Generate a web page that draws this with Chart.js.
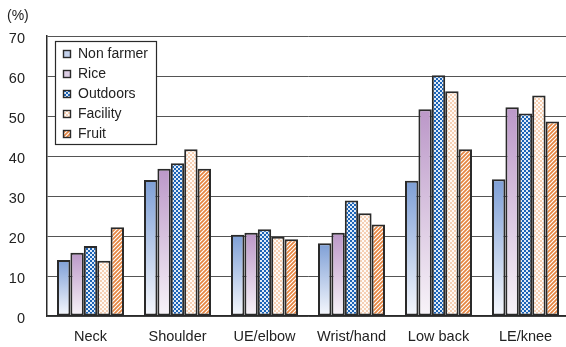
<!DOCTYPE html>
<html>
<head>
<meta charset="utf-8">
<script src="https://cdn.jsdelivr.net/npm/chart.js@4.4.1/dist/chart.umd.min.js"></script>
<style>
  html, body { margin: 0; padding: 0; background: #fff; overflow: hidden; width: 566px; height: 347px; }
  #wrap { position: relative; width: 572px; height: 347px; }
</style>
</head>
<body>
<div id="wrap"><canvas id="chart"></canvas></div>
<script>
// Prevalence of musculoskeletal symptoms by body region and farming type (%)
const categories = ['Neck', 'Shoulder', 'UE/elbow', 'Wrist/hand', 'Low back', 'LE/knee'];
const seriesNames = ['Non farmer', 'Rice', 'Outdoors', 'Facility', 'Fruit'];
const nonFarmer = [14.0, 34.0, 20.3, 18.2, 33.8, 34.2];
const rice      = [15.8, 36.8, 20.8, 20.8, 51.7, 52.2];
const outdoors  = [17.5, 38.2, 21.7, 28.9, 60.2, 50.6];
const facility  = [13.8, 41.7, 19.8, 25.7, 56.2, 55.1];
const fruit     = [22.2, 36.8, 19.2, 22.9, 41.7, 48.6];
const yTicks = [0, 10, 20, 30, 40, 50, 60, 70];

const FONT = '"Liberation Sans", Arial, Helvetica, sans-serif';
const EDGE = '#2a2a2a';

function tile(size, draw) {
  const c = document.createElement('canvas');
  c.width = size; c.height = size;
  draw(c.getContext('2d'));
  return document.createElement('canvas').getContext('2d').createPattern(c, 'repeat');
}

// checkered fills
const blueChecker = tile(4, g => {
  g.fillStyle = '#1b63b6'; g.fillRect(0, 0, 4, 4);
  g.fillStyle = '#dfeaf7'; g.fillRect(0, 0, 2, 2); g.fillRect(2, 2, 2, 2);
});
const peachChecker = tile(4, g => {
  g.fillStyle = '#fffaf6'; g.fillRect(0, 0, 4, 4);
  g.fillStyle = '#f5cfb3'; g.fillRect(0, 0, 2, 2); g.fillRect(2, 2, 2, 2);
});
// diagonal hatching
const orangeHatch = tile(4, g => {
  g.fillStyle = '#ffffff'; g.fillRect(0, 0, 4, 4);
  g.strokeStyle = '#e5843f'; g.lineWidth = 1.7;
  g.beginPath();
  g.moveTo(-1, 5); g.lineTo(5, -1);
  g.moveTo(-1, 1); g.lineTo(1, -1);
  g.moveTo(3, 5); g.lineTo(5, 3);
  g.stroke();
});

// vertical fade from a colour at the bar top to near-white at the baseline
function fade(top, bottom, swatch) {
  return function (ctx) {
    if (ctx.type !== 'data') return swatch;
    const chart = ctx.chart;
    if (!chart.chartArea || !chart.scales.y) return swatch;
    const y = chart.scales.y;
    const y0 = y.getPixelForValue(ctx.parsed.y);
    const y1 = y.getPixelForValue(0);
    const grad = chart.ctx.createLinearGradient(0, y0, 0, y1);
    grad.addColorStop(0, top);
    grad.addColorStop(1, bottom);
    return grad;
  };
}

const fills = [
  fade('#7e9fd6', '#f6f8fd', '#c3d1ec'),
  fade('#bb97c8', '#f8f4f9', '#dccde4'),
  blueChecker,
  peachChecker,
  orangeHatch
];
const swatches = ['#c3d1ec', '#dccde4', blueChecker, peachChecker, orangeHatch];
const values = [nonFarmer, rice, outdoors, facility, fruit];

const datasets = seriesNames.map((name, i) => ({
  label: name,
  data: values[i],
  backgroundColor: fills[i],
  borderColor: EDGE,
  borderWidth: 2,
  borderSkipped: false,
  barPercentage: 1.0,
  categoryPercentage: 0.77
}));

// "(%)" unit caption and the boxed legend inside the plot area
const decorations = {
  id: 'decorations',
  afterDraw(chart) {
    const g = chart.ctx;
    g.save();
    g.fillStyle = '#222';
    g.font = '14px ' + FONT;
    g.textBaseline = 'middle';
    g.textAlign = 'left';
    g.fillText('(%)', 7, 16);

    const bx = 55.5, by = 41.5, bw = 101, bh = 103;
    g.fillStyle = '#fff';
    g.fillRect(bx, by, bw, bh);
    g.strokeStyle = EDGE; g.lineWidth = 1.2;
    g.strokeRect(bx, by, bw, bh);

    chart.data.datasets.forEach((ds, i) => {
      const cy = 54 + i * 20;
      g.fillStyle = swatches[i];
      g.fillRect(63, cy - 4, 8, 8);
      g.strokeStyle = EDGE; g.lineWidth = 1.4;
      g.strokeRect(63.5, cy - 3.5, 7, 7);
      g.fillStyle = '#222';
      g.font = '14px ' + FONT;
      g.fillText(ds.label, 78, cy + 0.5);
    });
    g.restore();
  }
};

new Chart(document.getElementById('chart'), {
  type: 'bar',
  data: { labels: categories, datasets },
  options: {
    responsive: true,
    maintainAspectRatio: false,
    animation: false,
    layout: { padding: { top: 36, right: 3, left: 0, bottom: 0 } },
    plugins: { legend: { display: false }, tooltip: { enabled: false } },
    scales: {
      x: {
        offset: true,
        grid: { display: false, drawTicks: false },
        border: { display: true, color: EDGE, width: 1.5 },
        ticks: { color: '#222', font: { family: FONT, size: 14.5 }, padding: 12, maxRotation: 0 },
        afterFit(scale) { scale.height = 31; }
      },
      y: {
        min: 0,
        max: 70,
        afterBuildTicks(scale) { scale.ticks = yTicks.map(v => ({ value: v })); },
        grid: { color: '#555555', lineWidth: 1, drawTicks: false },
        border: { display: true, color: EDGE, width: 1.5 },
        ticks: { color: '#222', font: { family: FONT, size: 14.5 }, padding: 22, labelOffset: 3 },
        afterFit(scale) { scale.width = 47; }
      }
    }
  },
  plugins: [decorations]
});
</script>
</body>
</html>
